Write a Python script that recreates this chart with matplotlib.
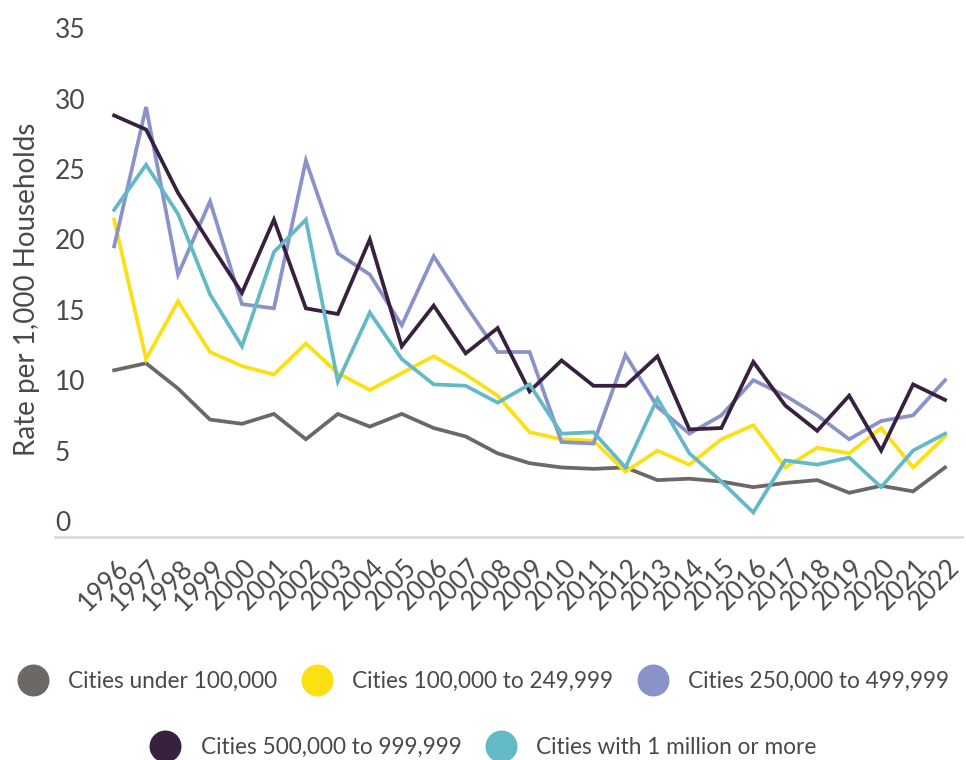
import matplotlib
matplotlib.use("Agg")
import matplotlib.pyplot as plt
from matplotlib.lines import Line2D
from matplotlib.transforms import ScaledTranslation

plt.rcParams['font.family'] = ['Lato', 'DejaVu Sans']

years = [1996, 1997, 1998, 1999, 2000, 2001, 2002, 2003, 2004, 2005, 2006, 2007, 2008,
         2009, 2010, 2011, 2012, 2013, 2014, 2015, 2016, 2017, 2018, 2019, 2020, 2021, 2022]
year_labels = [str(y) for y in years]

under_100k = [10.7, 11.2, 9.4, 7.2, 6.9, 7.6, 5.8, 7.6, 6.7, 7.6, 6.6, 6.0, 4.8, 4.1,
              3.8, 3.7, 3.8, 2.9, 3.0, 2.8, 2.4, 2.7, 2.9, 2.0, 2.5, 2.1, 3.8]
c100_249 = [21.4, 11.5, 15.6, 12.0, 11.0, 10.4, 12.6, 10.5, 9.3, 10.5, 11.7, 10.4, 8.9, 6.3,
            5.8, 5.7, 3.5, 5.0, 4.0, 5.8, 6.8, 3.8, 5.2, 4.8, 6.6, 3.8, 6.0]
c250_499 = [19.5, 29.4, 17.5, 22.7, 15.4, 15.1, 25.6, 19.0, 17.5, 13.9, 18.8, 15.3, 12.0, 12.0,
            5.6, 5.5, 11.8, 8.1, 6.2, 7.5, 10.0, 8.9, 7.5, 5.8, 7.1, 7.5, 10.0]
c500_999 = [28.8, 27.8, 23.3, 19.7, 16.2, 21.4, 15.1, 14.7, 20.0, 12.4, 15.3, 11.9, 13.7, 9.2,
            11.4, 9.6, 9.6, 11.7, 6.5, 6.6, 11.3, 8.2, 6.4, 8.9, 5.0, 9.7, 8.6]
c1m_plus = [22.1, 25.3, 21.8, 16.1, 12.4, 19.1, 21.4, 9.9, 14.8, 11.5, 9.7, 9.6, 8.4, 9.7,
            6.2, 6.3, 3.8, 8.7, 4.8, 2.8, 0.6, 4.3, 4.0, 4.5, 2.4, 5.0, 6.2]

series_names = ["Cities under 100,000", "Cities 100,000 to 249,999", "Cities 250,000 to 499,999",
                "Cities 500,000 to 999,999", "Cities with 1 million or more"]
series_values = [under_100k, c100_249, c250_499, c500_999, c1m_plus]
colors = ["#6b6865", "#fde014", "#8a93c9", "#38203f", "#63b9c8"]

yticks = [0, 5, 10, 15, 20, 25, 30, 35]
text_color = "#4d4846"

fig = plt.figure(figsize=(9.66, 7.6), dpi=100)
ax = fig.add_axes([55/966, 1-537/760, (962-55)/966, (537-20)/760])

for vals, col in zip(series_values, colors):
    ax.plot(years, vals, color=col, lw=2.7, solid_joinstyle='miter')

ax.set_xlim(1994.15, 2022.53)
ax.set_ylim(-1.14, 35.58)

for s in ['top', 'right', 'left']:
    ax.spines[s].set_visible(False)
ax.spines['bottom'].set_color('#d8d5d5')
ax.spines['bottom'].set_linewidth(1.8)

ax.set_yticks(yticks)
ax.set_yticklabels([str(t) for t in yticks])
ax.tick_params(axis='y', length=0, pad=0, labelsize=19, labelcolor=text_color)
for lab in ax.get_yticklabels():
    lab.set_horizontalalignment('left')

ax.set_xticks(years)
ax.set_xticklabels(year_labels, rotation=45, ha='right', rotation_mode='anchor')
ax.tick_params(axis='x', length=0, pad=13, labelsize=18.5, labelcolor=text_color)
off = ScaledTranslation(2/100, 0, fig.dpi_scale_trans)
for lab in ax.get_xticklabels():
    lab.set_transform(lab.get_transform() + off)

fig.text(27/966, 1-289/760, "Rate per 1,000 Households", rotation=90, ha='center',
         va='center', fontsize=20, color=text_color)

handles = [Line2D([], [], ls='none', marker='o', markersize=22, markerfacecolor=c,
                  markeredgecolor=c) for c in colors]
leg_kw = dict(frameon=False, fontsize=16.3, handlelength=1.4, handletextpad=0.85,
              columnspacing=1.05, labelcolor=text_color, borderaxespad=0, borderpad=0)
leg1 = fig.legend(handles[:3], series_names[:3], ncol=3, loc='center',
                  bbox_to_anchor=(0.5, 1-681/760), **leg_kw)
leg2 = fig.legend(handles[3:], series_names[3:], ncol=2, loc='center',
                  bbox_to_anchor=(0.5, 1-747/760), **leg_kw)

fig.savefig("out.png", dpi=100)
